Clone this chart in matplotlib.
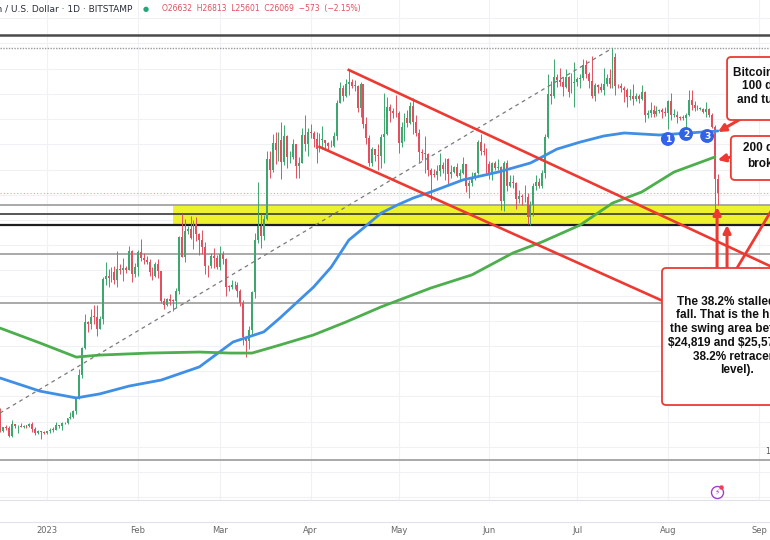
import numpy as np
import matplotlib
matplotlib.use("Agg")
import matplotlib.pyplot as plt
from matplotlib.patches import FancyBboxPatch, Rectangle
from matplotlib.lines import Line2D

# BTC/USD daily (Bitstamp), 16 Dec 2022 .. 18 Aug 2023; day 0 = 1 Jan 2023
FIRST_DAY = -16
FIRST_OPEN = 17360

closes_dec = [16630, 16780, 16740, 16440, 16900, 16820, 16830, 16780, 16840, 16830, 16920, 16700, 16550, 16630, 16600, 16540]
highs_dec = [17530, 16800, 16860, 16810, 17050, 16900, 16860, 16940, 16860, 16860, 16940, 16970, 16780, 16650, 16640, 16640]
lows_dec = [16580, 16580, 16670, 16400, 16400, 16760, 16560, 16770, 16760, 16730, 16790, 16590, 16470, 16490, 16330, 16490]

closes_jan = [16620, 16680, 16670, 16850, 16830, 16950, 16940, 17130, 17190, 17440, 17940, 18850, 19930, 20950, 20880, 21170,
              21160, 20690, 21080, 22670, 22780, 22710, 22920, 22630, 23060, 23010, 23080, 23030, 23770, 22840, 23130]
highs_jan = [16630, 16760, 16780, 16990, 16880, 17000, 16970, 17160, 17380, 17480, 17990, 19100, 19960, 21260, 21000, 21450,
             21620, 21620, 21180, 22730, 23340, 23050, 23150, 23160, 23780, 23240, 23490, 23160, 23960, 23800, 23300]
lows_jan = [16500, 16550, 16600, 16660, 16750, 16680, 16910, 16910, 17110, 17150, 17320, 17910, 18720, 19890, 20560, 20680,
            20880, 20410, 20670, 20880, 22430, 22340, 22520, 22470, 22350, 22850, 22560, 22880, 23000, 22550, 22720]

closes_feb = [23730, 23490, 23430, 23330, 22940, 22760, 23260, 22960, 21800, 21630, 21860, 21790, 21780, 22200, 24330, 23520,
              24570, 24630, 24290, 24830, 24450, 24190, 23940, 23190, 23160, 23560, 23490, 23130]
highs_feb = [23790, 24240, 23700, 23580, 23440, 23140, 23350, 23440, 22990, 21920, 21900, 22070, 21880, 22300, 24370, 25250,
             25020, 24770, 25150, 25000, 25120, 24470, 24600, 24120, 23200, 23680, 23880, 23600]
lows_feb = [22770, 23380, 23240, 23250, 22760, 22630, 22740, 22700, 21700, 21450, 21600, 21630, 21400, 21550, 22060, 23520,
            23350, 24450, 24250, 23850, 24150, 23600, 23640, 22850, 22750, 23080, 23110, 23050]

closes_mar = [23650, 23470, 22360, 22350, 22430, 22410, 22200, 21710, 20360, 20190, 20630, 22160, 24200, 24750, 24380, 25050,
              27420, 26970, 28040, 27770, 28170, 27300, 28330, 27490, 27490, 28000, 27140, 27270, 28360, 28030, 28480]
highs_mar = [23970, 23770, 23480, 22400, 22600, 22560, 22540, 22270, 21810, 20370, 20800, 22200, 24500, 26500, 25250, 25180,
             27750, 27720, 28400, 28480, 28500, 28880, 28750, 28380, 27750, 28200, 28010, 27480, 28630, 29170, 28650]
lows_mar = [23020, 23240, 22000, 22200, 22270, 22270, 21950, 21590, 20050, 19570, 19900, 20420, 21900, 24100, 23900, 24200,
            25000, 26650, 26900, 27200, 27350, 26620, 27170, 27050, 27250, 27400, 26650, 26670, 27250, 27730, 27550]

closes_apr = [28460, 28200, 27800, 28170, 28170, 28040, 27920, 27950, 28330, 29650, 30240, 29900, 30400, 30490, 30320, 30320,
              29440, 30400, 28820, 28250, 27270, 27820, 27590, 27520, 28300, 28420, 29470, 29340, 29250, 29230]
highs_apr = [28800, 28530, 28490, 28440, 28740, 28180, 28100, 28160, 28500, 29760, 30480, 30350, 30580, 30950, 30600, 30550,
             30350, 30470, 30410, 29090, 28360, 27880, 27820, 28000, 28390, 30020, 29880, 29580, 29430, 29960]
lows_apr = [28250, 27880, 27250, 27680, 27830, 27760, 27790, 27880, 27880, 28180, 29620, 29700, 29870, 29950, 30240, 30120,
            29280, 29100, 28650, 28000, 27140, 27140, 27340, 26970, 27050, 27240, 28380, 28900, 29040, 29100]

closes_may = [28070, 28680, 29030, 28850, 29530, 28900, 28450, 27690, 27650, 27620, 26990, 26800, 26780, 26930, 27170, 27030,
              27400, 26820, 26890, 27120, 26750, 26850, 27220, 26330, 26480, 26720, 26870, 28080, 27740, 27700, 27220]
highs_may = [29330, 28880, 29260, 29380, 29690, 29820, 29150, 28620, 27830, 28320, 27650, 27050, 27030, 27170, 27640, 27280,
             27460, 27470, 27170, 27150, 27260, 27040, 27480, 27220, 26580, 26910, 26890, 28170, 28420, 28040, 27840]
lows_may = [27660, 27880, 28150, 28690, 28810, 28390, 28330, 27280, 27360, 26850, 26750, 25810, 26700, 26600, 26730, 26880,
            26580, 26400, 26660, 26860, 26690, 26540, 26830, 26090, 25880, 26350, 26570, 26840, 27560, 27570, 26850]

closes_jun = [26820, 27250, 27070, 27120, 25760, 27240, 26350, 26500, 26480, 25850, 25940, 25900, 25920, 25120, 25580, 26330,
              26510, 26340, 26850, 28310, 30000, 29900, 30690, 30550, 30470, 30270, 30690, 30080, 30450, 30480]
highs_jun = [27340, 27300, 27320, 27430, 27140, 27350, 27380, 26800, 26790, 26520, 26200, 26020, 26400, 26080, 25740, 26460,
             26780, 26680, 26990, 28400, 30800, 30500, 31400, 30800, 31030, 30660, 31000, 30700, 30830, 31280]
lows_jun = [26620, 26600, 26970, 26990, 25390, 25350, 26150, 26320, 26260, 25420, 25660, 25600, 25720, 24830, 24800, 25170,
            26180, 26280, 26280, 26650, 28270, 29600, 29820, 30270, 30300, 29930, 30230, 29880, 30030, 29500]

closes_jul = [30590, 30620, 31160, 30770, 30510, 29900, 30350, 30290, 30170, 30410, 30620, 30390, 31480, 30330, 30300, 30250,
              30140, 29860, 29910, 29800, 29910, 29800, 30080, 29180, 29230, 29350, 29220, 29320, 29360, 29280, 29230]
highs_jul = [30660, 30770, 31380, 31330, 30880, 31510, 30440, 30380, 30430, 31040, 30800, 30980, 31820, 31640, 30390, 30450,
             30330, 30240, 30200, 30400, 30050, 29990, 30340, 30100, 29370, 29680, 29570, 29530, 29410, 29450, 29490]
lows_jul = [30330, 30230, 30570, 30630, 30220, 29850, 29730, 30050, 30070, 29950, 30300, 30230, 30250, 29950, 30250, 30080,
            29670, 29500, 29770, 29570, 29730, 29640, 29750, 28900, 29050, 29100, 29100, 29140, 29260, 29030, 29120]

closes_aug = [29700, 29180, 29180, 29080, 29060, 29050, 29180, 29770, 29570, 29430, 29400, 29420, 29290, 29410, 29170, 28700,
              26632, 26069]
highs_aug = [29740, 30050, 29400, 29310, 29110, 29160, 29240, 30140, 30150, 29720, 29550, 29470, 29460, 29690, 29460, 29230,
             28770, 26813]
lows_aug = [28590, 28960, 29100, 28830, 28960, 28980, 28700, 29120, 29380, 29330, 29350, 29360, 29250, 29100, 29070, 28650,
            25400, 25601]

# moving averages (day, price)
ma100_days = [-16, -2.4, 10, 18, 28, 39, 52, 63.5, 74, 79.5, 85, 91, 97, 103, 108, 114, 119.5, 125, 131, 142, 154, 165,
              169, 174, 182, 190, 197, 209, 224, 229]
ma100 = [18730, 18210, 17940, 18100, 18410, 18650, 19170, 20160, 20560, 21110, 21700, 22340, 23130, 24200, 24680, 25270,
         25590, 25870, 26110, 26590, 26900, 27260, 27500, 27810, 28090, 28330, 28450, 28370, 28490, 28530]
ma200_days = [-16, -2.4, 10, 18, 35, 52, 62.5, 70, 79.5, 91, 102, 114, 131, 145, 159, 169, 182, 193, 203, 214, 228]
ma200 = [20710, 20120, 19560, 19640, 19720, 19760, 19720, 19720, 20040, 20440, 20950, 21550, 22300, 22820, 23690, 24130,
         24800, 25670, 26110, 26900, 27500]

month_days = [0, 31, 59, 90, 120, 151, 181, 212, 243]
month_labels = ["2023", "Feb", "Mar", "Apr", "May", "Jun", "Jul", "Aug", "Sep"]

fib_levels = [25575, 23647, 21719, 15476]   # 38.2 / 50 / 61.8 / 100 %
swing_high, swing_low = 25250, 24819
top_dark, top_high = 32340, 31818
last_price = 26069

closes = closes_dec + closes_jan + closes_feb + closes_mar + closes_apr + closes_may + closes_jun + closes_jul + closes_aug
highs = highs_dec + highs_jan + highs_feb + highs_mar + highs_apr + highs_may + highs_jun + highs_jul + highs_aug
lows = lows_dec + lows_jan + lows_feb + lows_mar + lows_apr + lows_may + lows_jun + lows_jul + lows_aug
assert len(closes) == len(highs) == len(lows) == 246

c = np.array(closes, float)
o = np.array([FIRST_OPEN] + closes[:-1], float)
h = np.maximum(np.array(highs, float), np.maximum(o, c))
l = np.minimum(np.array(lows, float), np.minimum(o, c))
days = np.arange(FIRST_DAY, FIRST_DAY + len(c))

RED = "#ec3a33"
GREEN_C = "#3ea66e"
RED_C = "#e2505f"

fig = plt.figure(figsize=(7.7, 5.4), dpi=100)
ax = fig.add_axes([0, 40 / 540, 1, 500 / 540])
ax.set_xlim(-16.04, 246.76)
ax.set_ylim(13891, 33725)
for s in ("top", "left", "right"):
    ax.spines[s].set_visible(False)
ax.spines["bottom"].set_color("#dfe2e8")
ax.set_yticks(np.arange(14000, 34000, 1000))
ax.set_xticks(month_days)
ax.set_xticklabels(month_labels, fontsize=6, color="#666666")
ax.tick_params(left=False, labelleft=False, length=0, pad=19)
ax.grid(color="#eff1f5", lw=0.8, zorder=0)
ax.set_axisbelow(True)
fig.add_artist(Line2D([0, 1], [18 / 540, 18 / 540], color="#dfe2e8", lw=0.8))

# zone + horizontal levels
ax.add_patch(Rectangle((43.0, swing_low), 300, fib_levels[0] - swing_low, fc="#eef12e", ec="none", zorder=1))
for lv in fib_levels:
    ax.axhline(lv, color="#a3a3a3", lw=1.3, zorder=2)
ax.axhline(swing_high, color="#3a3a3a", lw=1.2, zorder=2)
ax.axhline(swing_low, color="#1e1e1e", lw=1.6, zorder=2)
ax.axhline(top_dark, color="#4a4a4a", lw=1.8, zorder=2)
ax.axhline(top_high, color="#9a9a9a", lw=1.0, ls=(0, (1, 1)), zorder=2)
ax.axhline(last_price, color="#f0a0a4", lw=0.8, ls=(0, (1, 2)), zorder=2)

# candles
up = c >= o
col = np.where(up, GREEN_C, RED_C)
ax.vlines(days, l, h, colors=col, lw=0.7, zorder=3)
ax.bar(days, np.maximum(np.abs(c - o), 25), bottom=np.minimum(o, c), width=0.65, color=col, lw=0, zorder=3.1)

# moving averages
ax.plot(ma100_days, ma100, color="#3f8fe6", lw=2.0, solid_capstyle="round", zorder=4)
ax.plot(ma200_days, ma200, color="#4cae4c", lw=2.0, solid_capstyle="round", zorder=4)

# drawings
ax.plot([-16.04, 193], [17342, 31818], color="#7a7a7a", lw=0.9, ls=(0, (3, 3)), zorder=5)
ax.plot([103, 247], [30950, 23160], color=RED, lw=1.9, zorder=5)
ax.plot([93, 213], [27900, 21640], color=RED, lw=1.9, zorder=5)
ax.plot([235.5, 252], [23094, 26300], color=RED, lw=2.0, zorder=6)

arrow = dict(arrowstyle="-|>", color=RED, lw=2.2, mutation_scale=11, shrinkA=0, shrinkB=0)
for tail, head in [((239.1, 29163), (229.0, 28489)),
                   ((233.4, 27497), (228.9, 27380)),
                   ((228.7, 23094), (228.7, 25514)),
                   ((232.1, 23094), (232.1, 24800))]:
    ax.annotate("", xy=head, xytext=tail, arrowprops=arrow, zorder=6)

# touches of the 100 day MA
for x, y, n in [(211.9, 28211, "1"), (218.1, 28410, "2"), (225.3, 28330, "3")]:
    ax.scatter([x], [y], s=100, color="#3262e6", zorder=8, edgecolors="none")
    ax.text(x, y - 20, n, color="white", fontsize=6.5, fontweight="bold", ha="center", va="center", zorder=9)

# text boxes
for x0, y0, y1 in [(232.1, 28965, 31464), (233.4, 26585, 28330), (209.9, 17659, 23094)]:
    ax.add_patch(FancyBboxPatch((x0, y0), 80, y1 - y0, boxstyle="round,pad=0,rounding_size=1.4",
                                mutation_aspect=116, fc="white", ec=RED, lw=1.3, zorder=7))

box_font = dict(fontsize=8.5, fontweight="bold", color="#111111", family="Liberation Sans",
                va="center", ha="left", zorder=8)
lines = [(234.1, 30829, "Bitcoin tested the"), (237.2, 30314, "100 day MA and"), (235.5, 29758, "and turned lower"),
         (237.5, 27854, "200 day MA"), (238.9, 27219, "broken"),
         (215.0, 21745, "The 38.2% stalled the"), (214.7, 21229, "fall. That is the high of"),
         (212.6, 20674, "the swing area between"), (211.9, 20118, "\\$24,819 and \\$25,576 (the"),
         (220.5, 19563, "38.2% retracement"), (229.7, 19047, "level).")]
for x, y, t in lines:
    ax.text(x, y, t, **box_font)

# small icon near the bottom
ax.scatter([228.7], [14208], s=75, facecolors="white", edgecolors="#a040c8", lw=1.0, zorder=8)
ax.text(228.7, 14208, "\u26a1", fontsize=5.5, color="#a040c8", ha="center", va="center", zorder=9)
ax.scatter([230.0], [14420], s=5, color="#f04050", zorder=9)

# header
fig.text(132 / 770, 1 - 9 / 540, "Bitcoin / U.S. Dollar \u00b7 1D \u00b7 BITSTAMP", ha="right", va="center",
         fontsize=6.5, color="#2a2e39")
fig.text(146 / 770, 1 - 9 / 540, "\u25cf", ha="center", va="center", fontsize=5, color="#22a67a")
fig.text(162 / 770, 1 - 9 / 540, "O26632  H26813  L25601  C26069  \u2212573  (\u22122.15%)", ha="left", va="center",
         fontsize=5.5, color="#e0505a")
fig.text(765 / 770, 1 - 452 / 540, "15476", ha="left", va="center", fontsize=5.5, color="#555555")

fig.savefig("out.png", dpi=100)
